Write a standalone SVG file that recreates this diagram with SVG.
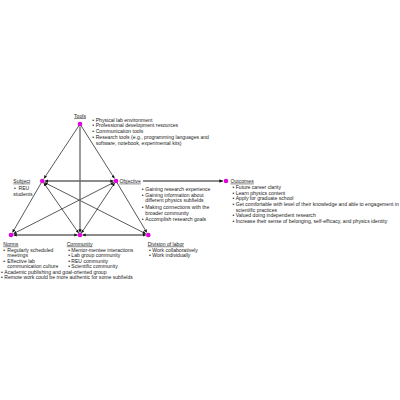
<svg xmlns="http://www.w3.org/2000/svg" width="400" height="400" viewBox="0 0 400 400">
<defs>
<marker id="ah" viewBox="0 0 10 10" refX="10" refY="5" markerWidth="3.2" markerHeight="3.2" orient="auto-start-reverse" markerUnits="userSpaceOnUse"><path d="M0,0 L10,5 L0,10 z" fill="#111"/></marker>
<marker id="ah2" viewBox="0 0 10 10" refX="10" refY="5" markerWidth="3.6" markerHeight="3.6" orient="auto-start-reverse" markerUnits="userSpaceOnUse"><path d="M0,0 L10,5 L0,10 z" fill="#111"/></marker>
</defs>
<style>
text{font-family:"Liberation Sans",Arial,sans-serif;font-size:5.1px;fill:#222}
.lbl{text-decoration:underline}
.thin{stroke:#111;stroke-width:0.7;fill:none}
.thick{stroke:#666;stroke-width:1.3;fill:none}
.node{fill:#e000e0}
</style>
<rect width="400" height="400" fill="#fff"/>
<g id="connectors">
<line class="thin" x1="80" y1="124" x2="44" y2="178.5" marker-end="url(#ah)"/>
<line class="thin" x1="42.3" y1="181" x2="12.5" y2="232.5" marker-end="url(#ah)"/>
<line class="thin" x1="80" y1="124" x2="114.5" y2="178.5" marker-end="url(#ah)"/>
<line class="thin" x1="116" y1="181" x2="146.8" y2="232.5" marker-end="url(#ah)"/>
<line class="thin" x1="44.5" y1="182.5" x2="145.8" y2="233.8" marker-start="url(#ah)" marker-end="url(#ah)"/>
<line class="thin" x1="113.8" y1="182.4" x2="13.5" y2="233.7" marker-start="url(#ah)" marker-end="url(#ah)"/>
<line class="thin" x1="43.8" y1="183" x2="78.6" y2="233" marker-start="url(#ah)" marker-end="url(#ah)"/>
<line class="thin" x1="114.6" y1="183" x2="81.4" y2="233" marker-start="url(#ah)" marker-end="url(#ah)"/>
<line class="thick" x1="80" y1="126.5" x2="80" y2="232.5" marker-end="url(#ah)"/>
<line class="thick" x1="44.8" y1="181" x2="113.5" y2="181" marker-start="url(#ah)" marker-end="url(#ah)"/>
<line class="thick" x1="13.5" y1="235" x2="77.5" y2="235" marker-start="url(#ah)" marker-end="url(#ah)"/>
<line class="thick" x1="82.5" y1="235" x2="145.8" y2="235" marker-start="url(#ah)" marker-end="url(#ah)"/>
<line class="thick" x1="143" y1="181" x2="223" y2="181" marker-end="url(#ah2)"/>
</g>
<g id="tools">
<circle class="node" cx="80" cy="124" r="2.3"/>
<text class="lbl" x="80" y="117.5" text-anchor="middle">Tools</text>
<text x="92.3" y="121.7">•</text><text x="95.7" y="121.7">Physical lab environment</text>
<text x="92.3" y="127.4">•</text><text x="95.7" y="127.4">Professional development resources</text>
<text x="92.3" y="133.1">•</text><text x="95.7" y="133.1">Communication tools</text>
<text x="92.3" y="138.8">•</text><text x="95.7" y="138.8">Research tools (e.g., programming languages and</text>
<text x="95.7" y="144.5">software, notebook, experimental kits)</text>
</g>
<g id="subject">
<circle class="node" cx="42.3" cy="181" r="2.3"/>
<text class="lbl" x="13.3" y="182.7">Subject</text>
<text x="14" y="189.9">•</text><text x="18.5" y="189.9">REU</text>
<text x="13.3" y="195.8">students</text>
</g>
<g id="objective">
<circle class="node" cx="116" cy="181" r="2.3"/>
<text class="lbl" x="119.5" y="182.7">Objective</text>
<text x="141.7" y="190.7">•</text><text x="145.3" y="190.7">Gaining research experience</text>
<text x="141.7" y="196.6">•</text><text x="145.3" y="196.6">Gaining information about</text>
<text x="145.3" y="202.4">different physics subfields</text>
<text x="141.7" y="208.6">•</text><text x="145.3" y="208.6">Making connections with the</text>
<text x="145.3" y="214.8">broader community</text>
<text x="141.7" y="220.9">•</text><text x="145.3" y="220.9">Accomplish research goals</text>
</g>
<g id="outcomes">
<circle class="node" cx="226" cy="181" r="2.3"/>
<text class="lbl" x="230.5" y="182.7">Outcomes</text>
<text x="232.5" y="189">•</text><text x="235.7" y="189">Future career clarity</text>
<text x="232.5" y="194.7">•</text><text x="235.7" y="194.7">Learn physics content</text>
<text x="232.5" y="200.4">•</text><text x="235.7" y="200.4">Apply for graduate school</text>
<text x="232.5" y="206">•</text><text x="235.7" y="206">Get comfortable with level of their knowledge and able to engagement in</text>
<text x="235.7" y="211.6">scientific practices</text>
<text x="232.5" y="217">•</text><text x="235.7" y="217">Valued doing independent research</text>
<text x="232.5" y="222.6">•</text><text x="235.7" y="222.6">Increase their sense of belonging, self-efficacy, and physics identity</text>
</g>
<g id="norms">
<circle class="node" cx="11" cy="235" r="2.3"/>
<text class="lbl" x="3.3" y="245.6">Norms</text>
<text x="3.3" y="251.7">•</text><text x="7.3" y="251.7">Regularly scheduled</text>
<text x="7.3" y="257.3">meetings</text>
<text x="3.3" y="262.7">•</text><text x="7.3" y="262.7">Effective lab</text>
<text x="7.3" y="268.3">communication culture</text>
<text x="1" y="274">•</text><text x="4.3" y="274">Academic publishing and goal-oriented group</text>
<text x="1" y="279.4">•</text><text x="4.3" y="279.4">Remote work could be more authentic for some subfields</text>
</g>
<g id="community">
<circle class="node" cx="80" cy="235" r="2.3"/>
<text class="lbl" x="66.7" y="245.6">Community</text>
<text x="68.3" y="251.7">•</text><text x="71.3" y="251.7">Mentor-mentee interactions</text>
<text x="68.3" y="257.3">•</text><text x="71.3" y="257.3">Lab group community</text>
<text x="68.3" y="262.7">•</text><text x="71.3" y="262.7">REU community</text>
<text x="68.3" y="268.3">•</text><text x="71.3" y="268.3">Scientific community</text>
</g>
<g id="division">
<circle class="node" cx="148.3" cy="235" r="2.3"/>
<text class="lbl" x="147.7" y="245.6">Division of labor</text>
<text x="149" y="251.7">•</text><text x="152.3" y="251.7">Work collaboratively</text>
<text x="149" y="257.3">•</text><text x="152.3" y="257.3">Work individually</text>
</g>
</svg>
